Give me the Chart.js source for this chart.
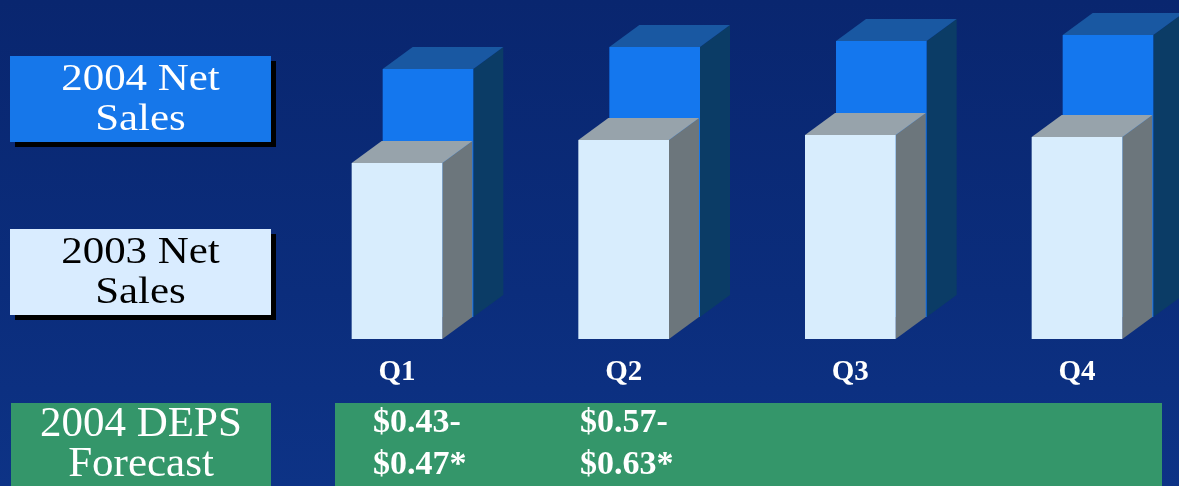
<!DOCTYPE html>
<html>
<head>
<meta charset="utf-8">
<script src="https://cdn.jsdelivr.net/npm/chart.js@4.4.0/dist/chart.umd.min.js"></script>
<style>
  html, body { margin: 0; padding: 0; }
  body {
    width: 1179px; height: 486px; overflow: hidden; position: relative;
    background: linear-gradient(180deg, #09266f 0%, #0b2d7c 60%, #0d3386 100%);
    font-family: "Liberation Serif", "DejaVu Serif", serif;
  }
  #myChart { position: absolute; left: 0; top: 0; }
  .key {
    position: absolute; left: 10px; width: 261px; height: 86px;
    box-shadow: 5px 5px 0 #000; text-align: center;
  }
  .key div { font-size: 37px; line-height: 40px; transform: scaleX(1.16); }
  .key div:first-child { margin-top: 2px; }
  .key.k2004 { top: 56px; background: #1677ea; color: #fff; }
  .key.k2003 { top: 229px; background: #d9ecff; color: #000; }
  .band { position: absolute; top: 403px; height: 90px; background: #34966a; color: #fff; }
  .band.title { left: 11px; width: 260px; text-align: center; font-size: 43px; line-height: 40px; }
  .band.title div:first-child { margin-top: -1px; }
  .band.values { left: 335px; width: 827px; }
  .deps { position: absolute; top: -3px; font-size: 34px; font-weight: bold; line-height: 42px; }
</style>
</head>
<body>
<canvas id="myChart" width="1179" height="486"></canvas>

<div class="key k2004"><div>2004 Net</div><div>Sales</div></div>
<div class="key k2003"><div>2003 Net</div><div>Sales</div></div>

<div class="band title"><div>2004 DEPS</div><div>Forecast</div></div>
<div class="band values" id="depsRow"></div>

<script>
// quarters along the x-axis
var quarters = ['Q1', 'Q2', 'Q3', 'Q4'];
// net sales, front row and back row
var sales2003 = [176, 199, 204, 202];
var sales2004 = [248, 270, 276, 282];
// diluted EPS forecast range, only the first two quarters given
var depsLow = [0.43, 0.57];
var depsHigh = [0.47, 0.63];

// where each forecast range starts inside the green band
var depsLeft = [38, 245];

var row = document.getElementById('depsRow');
depsLow.forEach(function (lo, i) {
  var d = document.createElement('div');
  d.className = 'deps';
  d.style.left = depsLeft[i] + 'px';
  d.innerHTML = '$' + lo.toFixed(2) + '-<br>$' + depsHigh[i].toFixed(2) + '*';
  row.appendChild(d);
});

// oblique depth of each box and how far the back row sits behind the front
var depth = { dx: 30, dy: -22 };
var backShift = { dx: 31, dy: -22 };

function drawBox(ctx, l, r, t, b, face, top, side) {
  ctx.fillStyle = side;
  ctx.beginPath();
  ctx.moveTo(r, t);
  ctx.lineTo(r + depth.dx, t + depth.dy);
  ctx.lineTo(r + depth.dx, b + depth.dy);
  ctx.lineTo(r, b);
  ctx.closePath();
  ctx.fill();

  ctx.fillStyle = top;
  ctx.beginPath();
  ctx.moveTo(l, t);
  ctx.lineTo(l + depth.dx, t + depth.dy);
  ctx.lineTo(r + depth.dx, t + depth.dy);
  ctx.lineTo(r, t);
  ctx.closePath();
  ctx.fill();

  ctx.fillStyle = face;
  ctx.fillRect(l, t, r - l, b - t);
}

// draws the bars as 3D boxes instead of flat rectangles
var boxes3d = {
  id: 'boxes3d',
  beforeDatasetsDraw: function (chart) {
    var ctx = chart.ctx;
    var ds = chart.data.datasets;
    var front = chart.getDatasetMeta(0).data;
    var back = chart.getDatasetMeta(1).data;
    ctx.save();
    for (var i = 0; i < front.length; i++) {
      var b = back[i], f = front[i];
      drawBox(ctx,
        b.x - b.width / 2 + backShift.dx, b.x + b.width / 2 + backShift.dx,
        b.y + backShift.dy, b.base + backShift.dy,
        ds[1].backgroundColor, ds[1].topColor, ds[1].sideColor);
      drawBox(ctx,
        f.x - f.width / 2, f.x + f.width / 2, f.y, f.base,
        ds[0].backgroundColor, ds[0].topColor, ds[0].sideColor);
    }
    ctx.restore();
    return false;
  }
};

var ctx = document.getElementById('myChart');
var myChart = new Chart(ctx, {
  type: 'bar',
  data: {
    labels: quarters,
    datasets: [
      {
        label: '2003 Net Sales',
        data: sales2003,
        backgroundColor: '#d8edfd',
        topColor: '#97a3ab',
        sideColor: '#6c767c'
      },
      {
        label: '2004 Net Sales',
        data: sales2004,
        backgroundColor: '#1477ee',
        topColor: '#1958a2',
        sideColor: '#0b3c66'
      }
    ]
  },
  options: {
    responsive: false,
    animation: false,
    devicePixelRatio: 1,
    layout: { padding: { left: 397, right: 102, top: 39, bottom: 100 } },
    datasets: {
      bar: { grouped: false, categoryPercentage: 1, barPercentage: 0.4 }
    },
    plugins: { legend: { display: false }, tooltip: { enabled: false } },
    scales: {
      x: {
        offset: false,
        grid: { display: false, drawTicks: false },
        border: { display: false },
        ticks: {
          color: '#ffffff',
          padding: 16,
          font: { family: 'Liberation Serif', size: 29, weight: 'bold' }
        },
        afterFit: function (scale) { scale.height = 47; }
      },
      y: {
        display: false,
        min: 0,
        max: 300
      }
    }
  },
  plugins: [boxes3d]
});
</script>
</body>
</html>
